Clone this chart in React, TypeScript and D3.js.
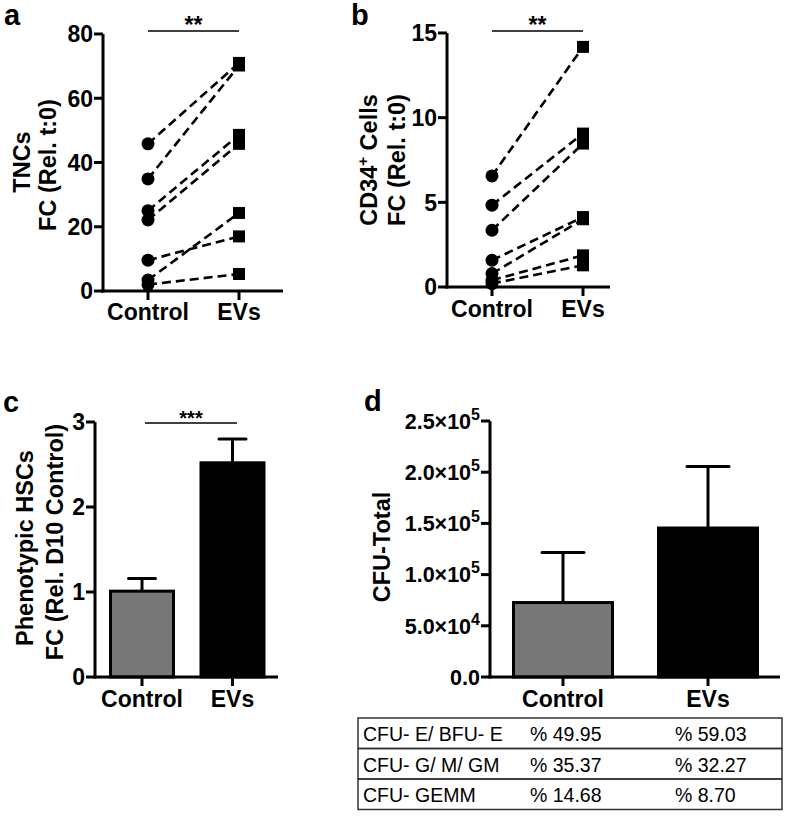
import React from "react";
import * as d3 from "d3";

// ---------- DATA ----------
const groups = ["Control", "EVs"];

// Panel a: TNCs fold change, paired (control -> EVs)
const tncControl = [45.8, 34.9, 25.0, 22.1, 9.6, 3.4, 2.0];
const tncEVs = [71.0, 70.2, 48.6, 45.8, 17.0, 24.3, 5.3];
const tncTicks = [0, 20, 40, 60, 80];

// Panel b: CD34+ cells fold change, paired
const cd34Control = [6.56, 4.83, 3.35, 1.58, 0.79, 0.4, 0.2];
const cd34EVs = [14.18, 9.06, 8.47, 4.13, 4.0, 1.87, 1.28];
const cd34Ticks = [0, 5, 10, 15];

// Panel c: phenotypic HSCs (mean, upper error)
const hscMean = [1.01, 2.52];
const hscErr = [0.15, 0.28];
const hscTicks = [0, 1, 2, 3];

// Panel d: CFU total (mean, upper error)
const cfuMean = [72700, 145500];
const cfuErr = [49000, 60000];
const cfuTicks = [0, 50000, 100000, 150000, 200000, 250000];

// Table
const tableRows = ["CFU- E/ BFU- E", "CFU- G/ M/ GM", "CFU- GEMM"];
const tableControl = ["% 49.95", "% 35.37", "% 14.68"];
const tableEVs = ["% 59.03", "% 32.27", "% 8.70"];

const FONT = "'Liberation Sans', Arial, Helvetica, sans-serif";

function YAxis({ x, scale, ticks, fmt, fs = 23 }: any) {
  const [r0, r1] = scale.range();
  return (
    <g>
      <line x1={x} x2={x} y1={r0 + 1.5} y2={r1} stroke="#000" strokeWidth={3} />
      {ticks.map((t: number) => (
        <g key={t}>
          <line x1={x - 9} x2={x} y1={scale(t)} y2={scale(t)} stroke="#000" strokeWidth={3} />
          <text x={x - 10} y={scale(t) + fs * 0.36} textAnchor="end" fontFamily={FONT} fontWeight="bold" fontSize={fs}>
            {fmt ? fmt(t) : t}
          </text>
        </g>
      ))}
    </g>
  );
}

function XAxis({ y, x0, x1, xs, labelY, fs = 23 }: any) {
  return (
    <g>
      <line x1={x0 - 1.5} x2={x1} y1={y} y2={y} stroke="#000" strokeWidth={3} />
      {groups.map((g) => (
        <g key={g}>
          <line x1={xs(g)} x2={xs(g)} y1={y} y2={y + 9} stroke="#000" strokeWidth={3} />
          <text x={xs(g)} y={labelY} textAnchor="middle" fontFamily={FONT} fontWeight="bold" fontSize={fs}>
            {g}
          </text>
        </g>
      ))}
    </g>
  );
}

function RotTitle({ x, y, children, fs = 23.5 }: any) {
  return (
    <text transform={`translate(${x},${y}) rotate(-90)`} textAnchor="middle" fontFamily={FONT} fontWeight="bold" fontSize={fs}>
      {children}
    </text>
  );
}

function Paired({ xs, ys, ctrl, ev }: any) {
  const line = d3.line<[number, number]>().x((d) => d[0]).y((d) => d[1]);
  return (
    <g>
      {ctrl.map((c: number, i: number) => (
        <path
          key={"l" + i}
          d={line([[xs("Control"), ys(c)], [xs("EVs"), ys(ev[i])]]) as string}
          stroke="#000"
          strokeWidth={2.6}
          strokeDasharray="9,5"
          fill="none"
        />
      ))}
      {ctrl.map((c: number, i: number) => (
        <circle key={"c" + i} cx={xs("Control")} cy={ys(c)} r={6.5} fill="#000" />
      ))}
      {ev.map((v: number, i: number) => (
        <rect key={"s" + i} x={xs("EVs") - 6} y={ys(v) - 6} width={12} height={12} fill="#000" />
      ))}
    </g>
  );
}

function Sig({ x0, x1, y, label, fs = 23 }: any) {
  return (
    <g>
      <line x1={x0} x2={x1} y1={y} y2={y} stroke="#000" strokeWidth={1.5} />
      <text x={(x0 + x1) / 2} y={y + 2} textAnchor="middle" fontFamily={FONT} fontWeight="bold" fontSize={fs}>
        {label}
      </text>
    </g>
  );
}

function Bars({ xs, ys, means, errs, width, cap }: any) {
  const fills = ["#777777", "#000000"];
  const y0 = ys.range()[0];
  return (
    <g>
      {groups.map((g, i) => (
        <g key={g}>
          <line x1={xs(g)} x2={xs(g)} y1={ys(means[i])} y2={ys(means[i] + errs[i])} stroke="#000" strokeWidth={3} />
          <line x1={xs(g) - cap / 2} x2={xs(g) + cap / 2} y1={ys(means[i] + errs[i])} y2={ys(means[i] + errs[i])} stroke="#000" strokeWidth={3} strokeLinecap="round" />
          <rect x={xs(g) - width / 2} y={ys(means[i])} width={width} height={y0 - ys(means[i])} fill={fills[i]} stroke="#000" strokeWidth={3} />
        </g>
      ))}
    </g>
  );
}

function sciLabel(v: number) {
  if (v === 0) return <tspan>0.0</tspan>;
  const [m, e] = v.toExponential(1).split("e");
  return (
    <>
      <tspan>{m}×10</tspan>
      <tspan fontSize={16} dy={-9}>{String(+e)}</tspan>
    </>
  );
}

export default function App() {
  // panel a
  const yA = d3.scaleLinear().domain([0, 80]).range([291, 34]);
  const xA = d3.scalePoint<string>().domain(groups).range([148, 239]);
  // panel b
  const yB = d3.scaleLinear().domain([0, 15]).range([287, 33]);
  const xB = d3.scalePoint<string>().domain(groups).range([492, 583]);
  // panel c
  const yC = d3.scaleLinear().domain([0, 3]).range([677, 422]);
  const xC = d3.scalePoint<string>().domain(groups).range([142, 232.5]);
  // panel d
  const yD = d3.scaleLinear().domain([0, 250000]).range([677, 421]);
  const xD = d3.scalePoint<string>().domain(groups).range([563, 708]);

  const tTop = 718;
  const rowH = 30.5;
  const tLeft = 358;
  const tRight = 782;

  return (
    <svg width={787} height={821} style={{ position: "absolute", left: 0, top: 0, background: "#fff" }}>
      <rect width={787} height={821} fill="#fff" />
      {/* letters */}
      <text x={4} y={25} fontFamily={FONT} fontWeight="bold" fontSize={29}>a</text>
      <text x={351} y={25} fontFamily={FONT} fontWeight="bold" fontSize={29}>b</text>
      <text x={3} y={412} fontFamily={FONT} fontWeight="bold" fontSize={29}>c</text>
      <text x={364} y={411} fontFamily={FONT} fontWeight="bold" fontSize={29}>d</text>

      {/* Panel a */}
      <RotTitle x={30} y={162}>TNCs</RotTitle>
      <RotTitle x={56} y={165}>FC (Rel. t:0)</RotTitle>
      <YAxis x={103} scale={yA} ticks={tncTicks} />
      <XAxis y={291} x0={103} x1={283} xs={xA} labelY={320} />
      <Paired xs={xA} ys={yA} ctrl={tncControl} ev={tncEVs} />
      <Sig x0={148} x1={239} y={31} label="**" />

      {/* Panel b */}
      <RotTitle x={377} y={160}>
        CD34<tspan fontSize={15} dy={-9}>+</tspan><tspan dy={9}> Cells</tspan>
      </RotTitle>
      <RotTitle x={405} y={160}>FC (Rel. t:0)</RotTitle>
      <YAxis x={447} scale={yB} ticks={cd34Ticks} />
      <XAxis y={287} x0={447} x1={610} xs={xB} labelY={317} />
      <Paired xs={xB} ys={yB} ctrl={cd34Control} ev={cd34EVs} />
      <Sig x0={492} x1={583} y={31} label="**" />

      {/* Panel c */}
      <RotTitle x={33} y={548}>Phenotypic HSCs</RotTitle>
      <RotTitle x={63} y={542}>FC (Rel. D10 Control)</RotTitle>
      <Bars xs={xC} ys={yC} means={hscMean} errs={hscErr} width={63} cap={27} />
      <YAxis x={95} scale={yC} ticks={hscTicks} />
      <XAxis y={677} x0={95} x1={278} xs={xC} labelY={707} />
      <Sig x0={145} x1={237} y={423} label="***" fs={20} />

      {/* Panel d */}
      <RotTitle x={390} y={547}>CFU-Total</RotTitle>
      <Bars xs={xD} ys={yD} means={cfuMean} errs={cfuErr} width={99} cap={42} />
      <YAxis x={490} scale={yD} ticks={cfuTicks} fmt={sciLabel} fs={21.5} />
      <XAxis y={677} x0={490} x1={780} xs={xD} labelY={707} />

      {/* Table */}
      <g fontFamily={FONT} fontSize={19.5}>
        {tableRows.map((r, i) => (
          <g key={r}>
            <rect x={tLeft} y={tTop + i * rowH} width={tRight - tLeft} height={rowH} fill="none" stroke="#333" strokeWidth={1.5} />
            <text x={363} y={tTop + i * rowH + 23}>{r}</text>
            <text x={530} y={tTop + i * rowH + 23}>{tableControl[i]}</text>
            <text x={675} y={tTop + i * rowH + 23}>{tableEVs[i]}</text>
          </g>
        ))}
      </g>
    </svg>
  );
}
